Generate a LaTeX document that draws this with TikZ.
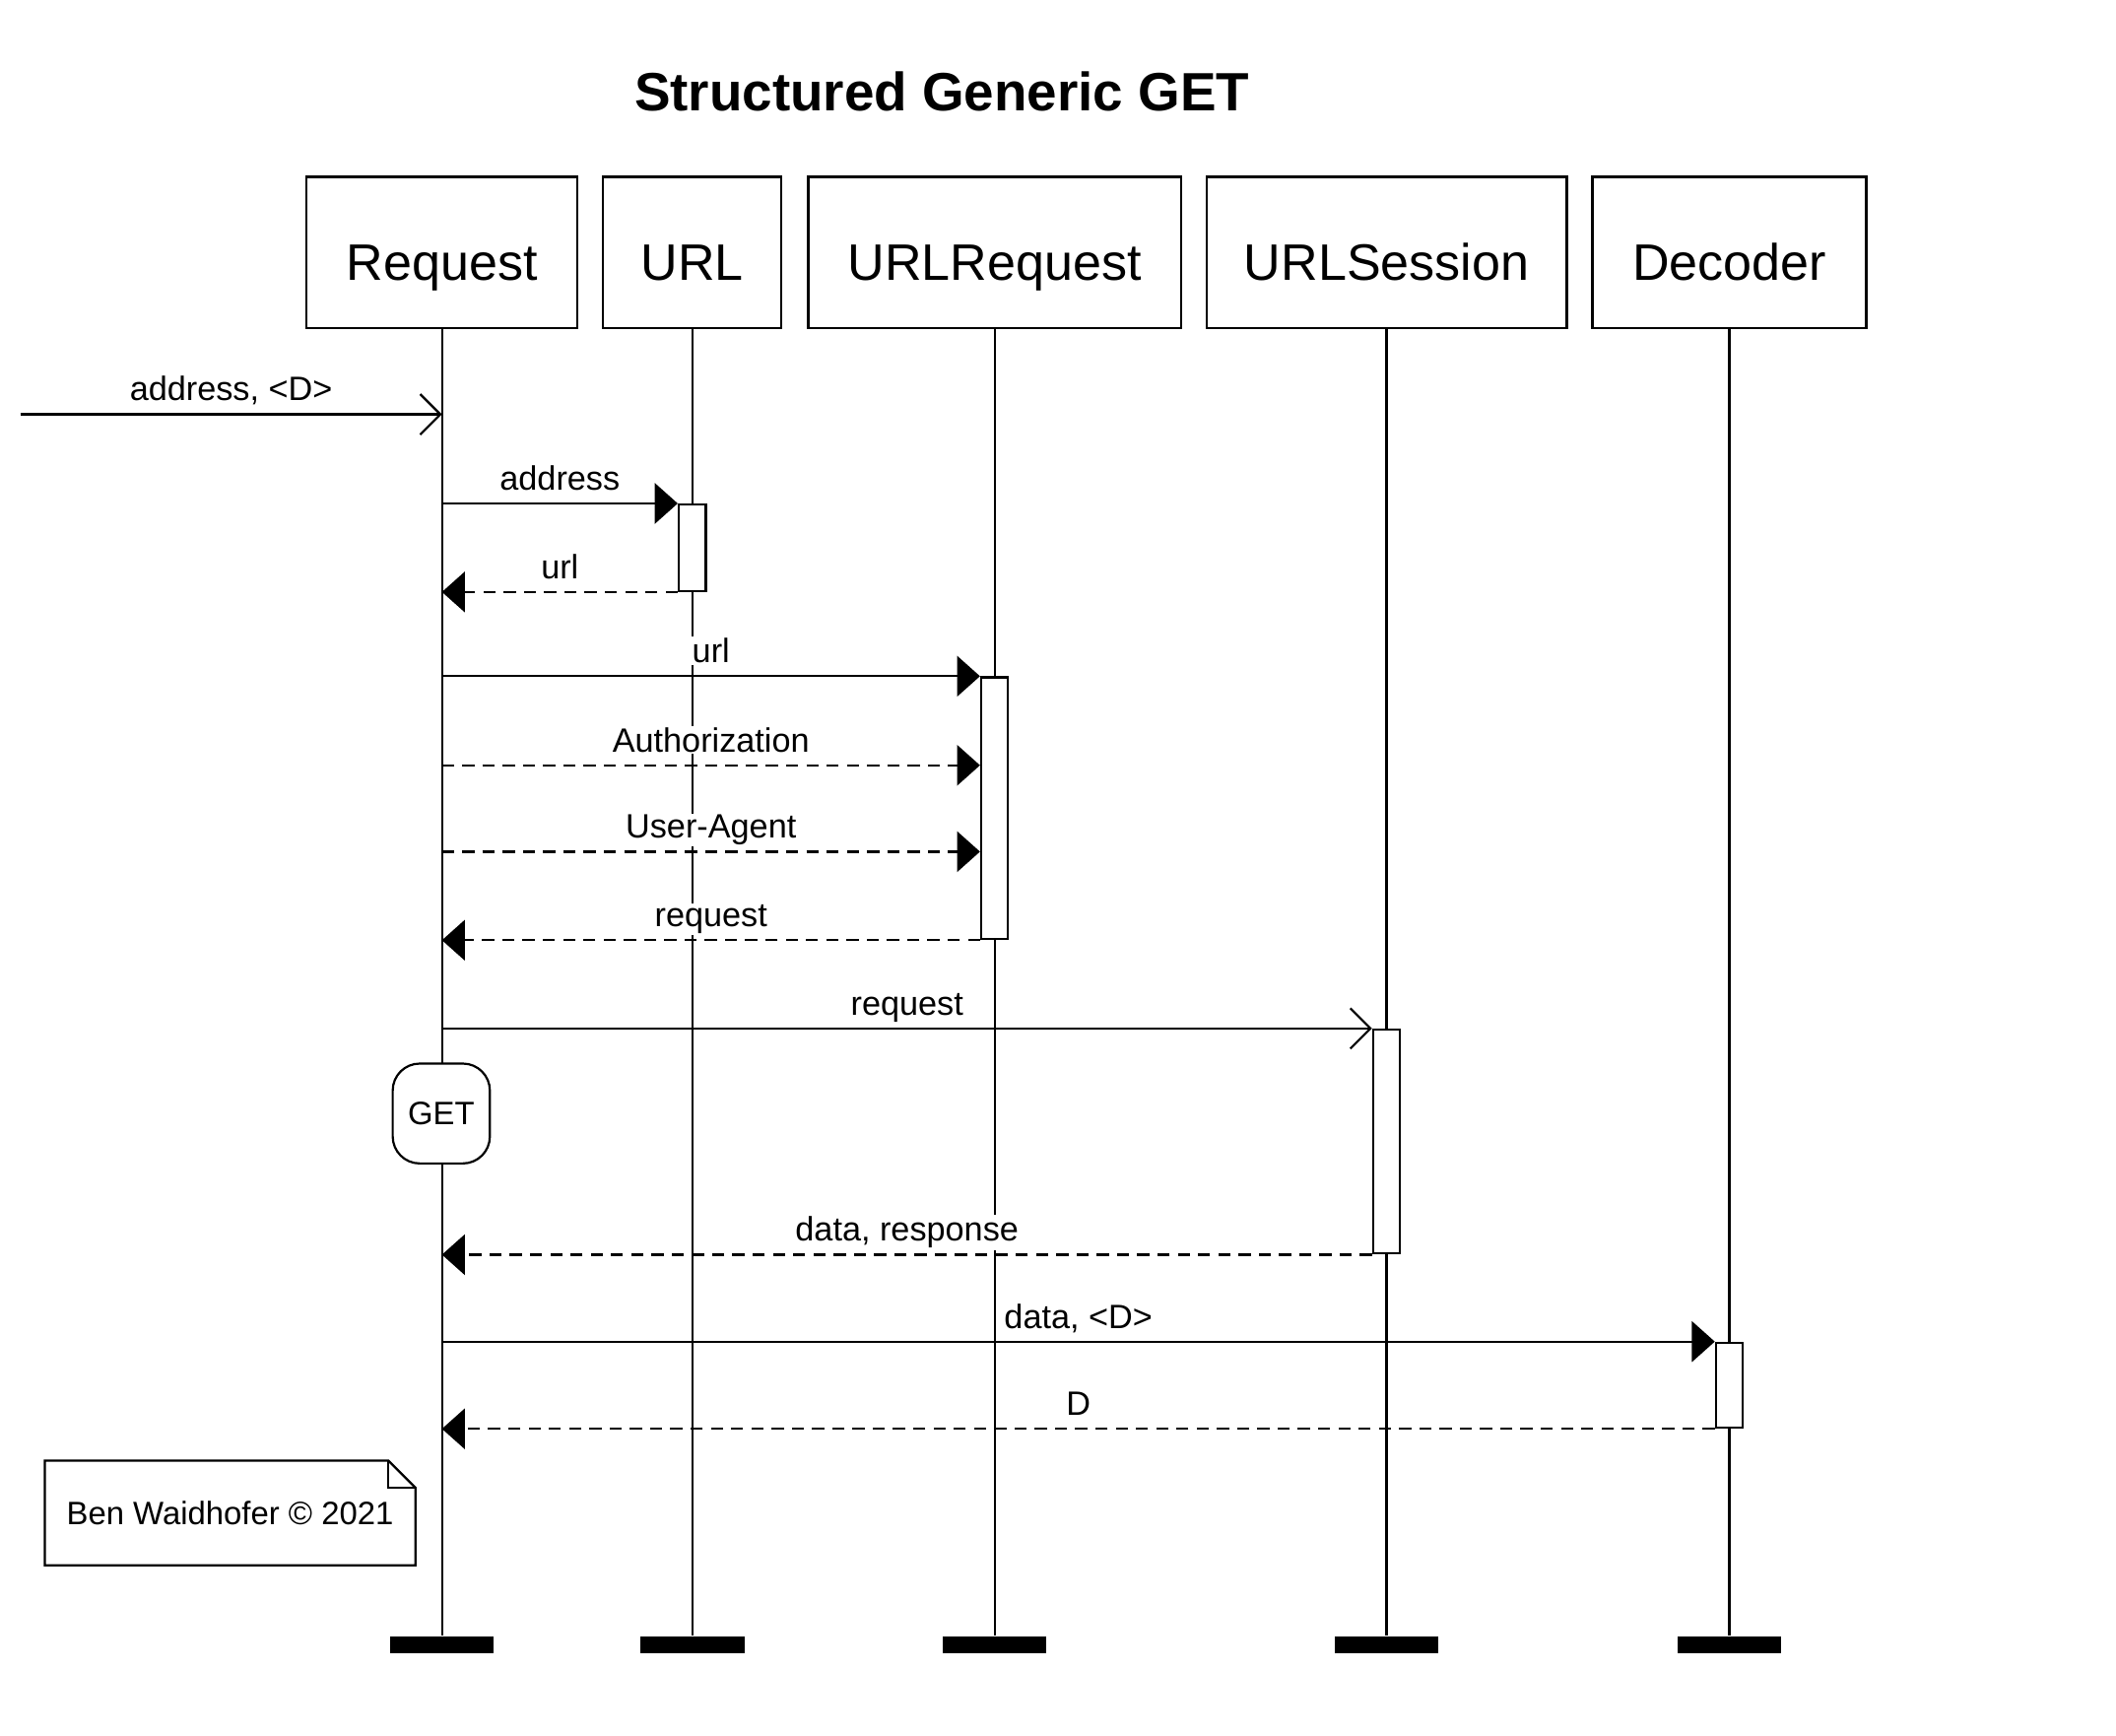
\documentclass[tikz,border=0pt]{standalone}
\usepackage{fontspec}
\setmainfont{Liberation Sans}
\usetikzlibrary{arrows.meta}

\begin{document}
\begin{tikzpicture}[x=0.5pt, y=-0.5pt, line width=0.8pt,
    actor/.style={draw, fill=white, minimum height=56pt, inner sep=0pt, text height=20.7pt, text depth=0pt,
        font=\fontsize{19}{22}\selectfont},
    act/.style={draw, fill=white, minimum width=10pt, inner sep=0pt, anchor=north},
    endbar/.style={fill=black, minimum width=38.5pt, minimum height=6pt, inner sep=0pt, anchor=north},
    msg/.style={font=\fontsize{12.5}{15}\selectfont, fill=white, inner sep=0.6pt, anchor=base, yshift=5pt},
    call/.style={-{Triangle[length=8.5pt,width=15pt]}},
    found/.style={-{Straight Barb[length=7.5pt,width=15pt]}},
    hdr/.style={dash pattern=on 4.5pt off 3pt, -{Triangle[length=8.5pt,width=15pt]}},
    reply/.style={dash pattern=on 4.5pt off 3pt, -{Triangle[length=8.5pt,width=15pt]}}]
    \useasboundingbox (0,0) rectangle (1568,1286);

    %title
    \node[font=\fontsize{20}{24}\selectfont\bfseries] (title) at (698,68) {Structured Generic GET};

    %participants
    \node[actor, minimum width=100.5pt] (request) at (327.5,187) {Request};
    \node[actor, minimum width=66pt] (url) at (513,187) {URL};
    \node[actor, minimum width=138pt] (urlrequest) at (737,187) {URLRequest};
    \node[actor, minimum width=133.5pt] (urlsession) at (1027.5,187) {URLSession};
    \node[actor, minimum width=101.5pt] (decoder) at (1281.5,187) {Decoder};

    %lifelines
    \foreach \n in {request,url,urlrequest,urlsession,decoder}{
        \node[endbar] (\n bar) at (\n.south |- 0,1212) {};
        \draw (\n.south) -- (\n bar.north);
    }

    %activations
    \node[act, minimum height=32pt] (urlact) at (url.south |- 0,373) {};
    \node[act, minimum height=97pt] (reqact) at (urlrequest.south |- 0,501) {};
    \node[act, minimum height=83pt] (sessact) at (urlsession.south |- 0,762) {};
    \node[act, minimum height=31.5pt] (decact) at (decoder.south |- 0,994) {};

    %messages
    \coordinate (start) at (15,307);
    \coordinate (auth) at (0,567);
    \coordinate (agent) at (0,631);
    \draw[found] (start) -- (request.south |- start) node[msg, midway] {address, <D>};
    \draw[call] (request.south |- urlact.north) -- (urlact.north west) node[msg, midway] {address};
    \draw[reply] (urlact.south west) -- (request.south |- urlact.south) node[msg, midway] {url};
    \draw[call] (request.south |- reqact.north) -- (reqact.north west) node[msg, midway] {url};
    \draw[hdr] (request.south |- auth) -- (reqact.west |- auth) node[msg, midway] {Authorization};
    \draw[hdr] (request.south |- agent) -- (reqact.west |- agent) node[msg, midway] {User-Agent};
    \draw[reply] (reqact.south west) -- (request.south |- reqact.south) node[msg, midway] {request};
    \draw[found] (request.south |- sessact.north) -- (sessact.north west) node[msg, midway] {request};
    \draw[reply] (sessact.south west) -- (request.south |- sessact.south) node[msg, midway] {data, response};
    \draw[call] (request.south |- decact.north) -- (decact.north west) node[msg, midway] {data, <D>};
    \draw[reply] (decact.south west) -- (request.south |- decact.south) node[msg, midway] {D};

    %GET
    \node[draw, fill=white, rounded corners=10pt, minimum width=36pt, minimum height=37pt,
        inner sep=0pt, font=\fontsize{12}{14}\selectfont] (get) at (327,825) {GET};

    %note
    \node[minimum width=136.5pt, minimum height=38pt, inner sep=0pt,
        font=\fontsize{12}{14}\selectfont] (note) at (170.5,1121) {Ben Waidhofer \textcopyright{} 2021};
    \draw (note.north west) -- ([xshift=-10pt]note.north east) -- ([yshift=-10pt]note.north east)
        -- (note.south east) -- (note.south west) -- cycle;
    \draw ([xshift=-10pt]note.north east) -- ([xshift=-10pt,yshift=-10pt]note.north east)
        -- ([yshift=-10pt]note.north east);
\end{tikzpicture}
\end{document}
